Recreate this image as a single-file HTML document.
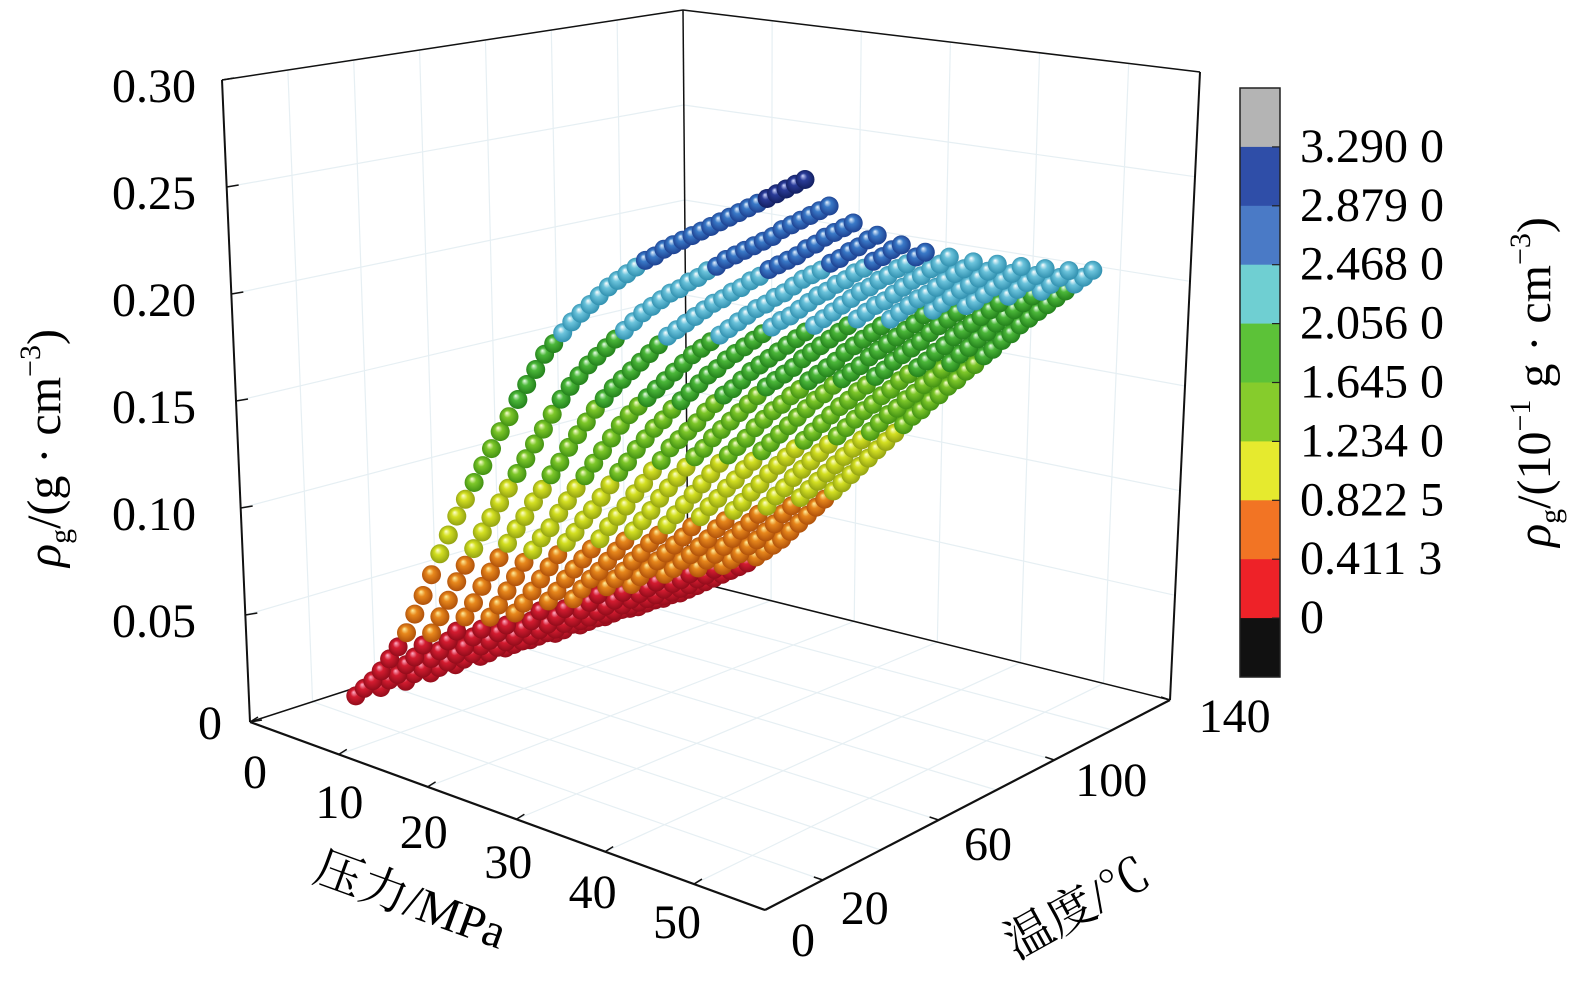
<!DOCTYPE html>
<html><head><meta charset="utf-8"><style>
html,body{margin:0;padding:0;background:#fff;}
svg{display:block;font-family:"Liberation Serif","Noto Serif CJK SC",serif;}
</style></head><body>
<svg id="chart" width="1575" height="988" viewBox="0 0 1575 988" xmlns="http://www.w3.org/2000/svg">
<defs id="defs"></defs>
<g id="grid"></g>
<g id="box"></g>
<g id="pts"></g>
<g id="labels"></g>
<g id="cbar"></g>
<text transform="translate(60,448) rotate(-90)" text-anchor="middle" font-size="48"><tspan font-style="italic">ρ</tspan><tspan font-size="30" dy="10">g</tspan><tspan dy="-10">/(g · cm</tspan><tspan font-size="30" dy="-20">−3</tspan><tspan dy="20">)</tspan></text>
<text transform="translate(405,915) rotate(20)" text-anchor="middle" font-size="48">压力/MPa</text>
<text transform="translate(1085,922) rotate(-29)" text-anchor="middle" font-size="48">温度/℃</text>
<text transform="translate(1550,382) rotate(-90)" text-anchor="middle" font-size="48"><tspan font-style="italic">ρ</tspan><tspan font-size="30" dy="10">g</tspan><tspan dy="-10">/(10</tspan><tspan font-size="30" dy="-20">−1</tspan><tspan dy="20"> g · cm</tspan><tspan font-size="30" dy="-20">−3</tspan><tspan dy="20">)</tspan></text>
</svg>
<script>
const temps=[20,28,36,44,52,60,68,76,84,92,100,108,116];
const pressures=[5,6,7,8,9,10,11,12,13,14,15,16,17,18,19,20,21,22,23,24,25,26,27,28,29,30,31,32,33,34,35,36,37,38,39,40,41,42,43,44,45,46,47,48,49,50,51,52,53,54,55];
const c1=[.010,.015,.020,.026,.033,.040,.048,.058,.068,.079,.090,.100,.110,.119,.128,.137,.146,.155,.163,.172,.180,.188,.196,.202,.208,.214,.219,.224,.229,.234,.238,.242,.246,.250,.253,.257,.260,.263,.266,.269,.272,.275,.278,.281,.284,.287,.290,.293,.296,.299,.302];
const c2=[.010,.015,.019,.025,.030,.037,.044,.053,.062,.072,.081,.090,.099,.107,.115,.123,.131,.139,.147,.155,.163,.171,.178,.184,.190,.195,.200,.205,.210,.215,.220,.224,.228,.232,.235,.239,.242,.246,.249,.253,.256,.259,.262,.265,.268,.272,.275,.278,.281,.284,.287];
const c3=[.009,.014,.018,.024,.029,.035,.041,.049,.057,.066,.074,.082,.090,.098,.105,.113,.120,.128,.135,.143,.150,.157,.164,.170,.176,.181,.186,.191,.196,.201,.206,.210,.214,.218,.222,.226,.229,.233,.236,.240,.243,.247,.250,.253,.256,.260,.263,.267,.270,.273,.276];
const c4=[.009,.013,.017,.022,.027,.033,.038,.045,.052,.060,.068,.076,.083,.090,.096,.104,.111,.118,.125,.132,.139,.146,.153,.159,.164,.169,.174,.179,.184,.189,.194,.198,.202,.206,.210,.214,.218,.222,.225,.229,.232,.236,.240,.243,.246,.250,.253,.257,.260,.264,.267];
const c5=[.009,.013,.017,.022,.026,.031,.036,.043,.049,.056,.063,.070,.077,.084,.090,.097,.103,.110,.117,.124,.130,.137,.143,.149,.154,.160,.165,.170,.175,.180,.184,.189,.193,.197,.201,.205,.209,.213,.216,.220,.224,.228,.231,.235,.238,.242,.245,.249,.252,.256,.259];
const c6=[.009,.012,.016,.020,.024,.029,.034,.040,.046,.052,.059,.065,.071,.077,.083,.090,.096,.102,.109,.115,.122,.128,.135,.140,.145,.150,.156,.161,.166,.170,.175,.180,.184,.188,.192,.196,.200,.204,.208,.212,.216,.220,.224,.228,.231,.235,.238,.242,.245,.249,.252];
const c7=[.009,.012,.015,.019,.023,.027,.032,.037,.043,.049,.055,.060,.066,.072,.078,.084,.090,.096,.103,.109,.115,.121,.127,.132,.138,.143,.148,.153,.158,.163,.168,.172,.176,.180,.185,.189,.193,.197,.201,.205,.209,.213,.217,.220,.224,.228,.232,.235,.239,.242,.246];
const c8=[.009,.012,.015,.018,.022,.026,.031,.036,.041,.046,.051,.056,.062,.067,.073,.078,.084,.090,.096,.102,.108,.114,.120,.125,.130,.135,.141,.146,.151,.155,.160,.164,.169,.173,.177,.181,.186,.190,.194,.198,.202,.206,.210,.214,.218,.221,.225,.229,.233,.236,.240];
const c9=[.008,.011,.015,.018,.021,.025,.029,.033,.038,.043,.048,.053,.058,.063,.068,.073,.079,.085,.091,.096,.102,.107,.113,.118,.124,.129,.134,.139,.144,.149,.154,.158,.163,.167,.171,.175,.180,.184,.188,.192,.196,.200,.205,.208,.212,.216,.220,.223,.227,.231,.235];
const c10=[.008,.011,.014,.017,.020,.024,.028,.032,.036,.040,.045,.049,.054,.058,.063,.068,.074,.079,.085,.090,.096,.101,.107,.112,.117,.122,.127,.132,.137,.142,.147,.151,.156,.160,.165,.169,.174,.178,.182,.186,.191,.195,.199,.203,.207,.210,.214,.218,.222,.226,.230];
const c11=[.008,.011,.014,.017,.020,.023,.026,.030,.034,.037,.041,.045,.050,.054,.059,.064,.069,.074,.079,.084,.090,.095,.101,.106,.111,.116,.121,.126,.131,.136,.141,.145,.150,.154,.159,.163,.167,.171,.176,.180,.185,.189,.193,.197,.201,.205,.209,.213,.217,.221,.225];
const c12=[.008,.010,.013,.016,.019,.022,.025,.028,.032,.035,.039,.042,.046,.050,.055,.059,.064,.069,.075,.080,.085,.090,.095,.100,.105,.110,.115,.120,.125,.130,.135,.139,.144,.148,.153,.157,.162,.166,.171,.175,.180,.184,.189,.193,.197,.201,.205,.208,.212,.216,.220];
const c13=[.008,.010,.013,.015,.018,.021,.024,.027,.030,.033,.036,.039,.043,.047,.051,.055,.060,.065,.070,.075,.080,.085,.090,.095,.100,.105,.110,.115,.120,.125,.130,.134,.139,.143,.148,.152,.157,.161,.166,.170,.175,.179,.184,.188,.192,.196,.200,.204,.208,.212,.216];
const series=[c1,c2,c3,c4,c5,c6,c7,c8,c9,c10,c11,c12,c13];
const zTicks=[0,0.05,0.10,0.15,0.20,0.25,0.30];
const zTickLabels=["0","0.05","0.10","0.15","0.20","0.25","0.30"];
const pTicks=[0,10,20,30,40,50];
const tTicks=[0,20,60,100,140];
const cbarLabels=["3.290 0","2.879 0","2.468 0","2.056 0","1.645 0","1.234 0","0.822 5","0.411 3","0"];

const NS="http://www.w3.org/2000/svg";
const PMAX=58,TMAX=140,ZMAX=0.3;
const O=[250,722],F=[765,910],R=[1170,700],B=[688,580];
const H={O:642,F:700,B:570,R:628}, S={O:-28,F:7,B:-5,R:30};
function lerp(a,b,t){return a+(b-a)*t;}
function proj(P,T,z){
  const u=P/PMAX,v=T/TMAX;
  const bx=lerp(O[0],F[0],u),by=lerp(O[1],F[1],u);
  const kx=lerp(B[0],R[0],u),ky=lerp(B[1],R[1],u);
  const fx=lerp(bx,kx,v),fy=lerp(by,ky,v);
  const h=lerp(lerp(H.O,H.F,u),lerp(H.B,H.R,u),v);
  const s=lerp(lerp(S.O,S.F,u),lerp(S.B,S.R,u),v);
  return [fx+z/ZMAX*s, fy-z/ZMAX*h];
}
function el(tag,attrs,parent){const e=document.createElementNS(NS,tag);for(const k in attrs)e.setAttribute(k,attrs[k]);parent.appendChild(e);return e;}
function line(p,q,parent,stroke,w){return el('line',{x1:p[0],y1:p[1],x2:q[0],y2:q[1],stroke:stroke,'stroke-width':w},parent);}

const sphereCols=[["#ffb0c8","#d41c30","#8a0a18"],["#fff0a0","#e8881c","#a84a08"],["#ffffd0","#d4e022","#8a9a10"],["#ffffd8","#7ec82a","#3a8a10"],["#f0fff0","#4cb83a","#1e7a18"],["#ffffff","#6cc4dc","#2a8aaa"],["#e8f4ff","#3a7ac8","#1a3a8a"],["#d0d8ff","#2a3c98","#101c5a"]];
const defs=document.getElementById('defs');
sphereCols.forEach((c,i)=>{
  const g=el('radialGradient',{id:'sg'+i,cx:'0.5',cy:'0.5',r:'0.55',fx:'0.38',fy:'0.3'},defs);
  el('stop',{offset:'0',"stop-color":c[0]},g);
  el('stop',{offset:'0.35',"stop-color":c[1]},g);
  el('stop',{offset:'1',"stop-color":c[2]},g);
});
function bin(val){const v=val*10;const e=[0.4113,0.8225,1.234,1.645,2.056,2.468,2.879];let i=0;while(i<e.length&&v>=e[i])i++;return i;}

const grid=document.getElementById('grid');
const gc="#e6eff3";
zTicks.forEach(z=>{ if(z===0)return;
  line(proj(0,0,z),proj(0,TMAX,z),grid,gc,1.2);
  line(proj(0,TMAX,z),proj(PMAX,TMAX,z),grid,gc,1.2);
});
[20,40,60,80,100,120].forEach(t=>{
  line(proj(0,t,0),proj(0,t,ZMAX),grid,gc,1.2);
  line(proj(0,t,0),proj(PMAX,t,0),grid,gc,1.2);
});
[10,20,30,40,50].forEach(p=>{
  line(proj(p,TMAX,0),proj(p,TMAX,ZMAX),grid,gc,1.2);
  line(proj(p,0,0),proj(p,TMAX,0),grid,gc,1.2);
});

const box=document.getElementById('box');
line(proj(0,0,0),proj(0,0,ZMAX),box,"#111",2);
line(proj(0,0,ZMAX),proj(0,TMAX,ZMAX),box,"#111",1.5);
line(proj(0,TMAX,ZMAX),proj(PMAX,TMAX,ZMAX),box,"#111",1.5);
line(proj(PMAX,TMAX,ZMAX),proj(PMAX,TMAX,0),box,"#111",2);
line(proj(0,TMAX,0),proj(0,TMAX,ZMAX),box,"#111",1.5);
line(proj(0,0,0),proj(0,TMAX,0),box,"#111",1.5);
line(proj(0,TMAX,0),proj(PMAX,TMAX,0),box,"#111",1.5);
line(proj(0,0,0),proj(PMAX,0,0),box,"#111",2.2);
line(proj(PMAX,0,0),proj(PMAX,TMAX,0),box,"#111",2.2);
zTicks.forEach(z=>{const p=proj(0,0,z);line(p,[p[0]+12,p[1]-2],box,"#111",1.5);});
pTicks.forEach(pv=>{const p=proj(pv,0,0);line(p,[p[0]+8,p[1]-5],box,"#111",1.5);});
tTicks.forEach(tv=>{const p=proj(PMAX,tv,0);line(p,[p[0]-9,p[1]-3],box,"#111",1.5);});

const pts=document.getElementById('pts');
const items=[];
series.forEach((vals,ci)=>{vals.forEach((v,pi)=>{if(pressures[pi]!==undefined)items.push({T:temps[ci],P:pressures[pi],z:v});});});
items.sort((a,b)=>(b.T/TMAX-b.P/PMAX)-(a.T/TMAX-a.P/PMAX));
items.forEach(it=>{
  const p=proj(it.P,it.T,it.z);
  const c=el('circle',{cx:p[0].toFixed(1),cy:p[1].toFixed(1),r:9.5,fill:'url(#sg'+bin(it.z)+')'},pts);
  
  
});

const labels=document.getElementById('labels');
zTicks.forEach((z,i)=>{const p=proj(0,0,z);
  const t=el('text',{x:(i===0?222:196),y:(p[1]+17+(i===0?0:5)).toFixed(1),'text-anchor':'end','font-size':48},labels);
  
  
  t.textContent=zTickLabels[i];
});
pTicks.forEach(pv=>{const p=proj(pv,0,0);
  const t=el('text',{x:(p[0]+5-pv*0.44).toFixed(1),y:(p[1]+66-pv*0.24).toFixed(1),'text-anchor':'middle','font-size':48},labels);
  
  
  t.textContent=String(pv);
});
tTicks.forEach(tv=>{const p=proj(PMAX,tv,0);
  const t=el('text',{x:(p[0]+38+tv*0.19).toFixed(1),y:(p[1]+46-tv*0.1).toFixed(1),'text-anchor':'middle','font-size':48},labels);
  
  
  t.textContent=String(tv);
});

const cb=document.getElementById('cbar');
const cbX=1240,cbW=40,cbTop=88,cbH=589;
const cbFills=["#b4b4b4","#2f4ea8","#4a7ac6","#6fcfd2","#5cc238","#86cc2c","#e6ea2e","#f27424","#ee2228","#111111"];
const seg=cbH/cbFills.length;
cbFills.forEach((f,i)=>{const r=el('rect',{x:cbX,y:(cbTop+i*seg).toFixed(1),width:cbW,height:(seg+0.5).toFixed(1),fill:f},cb);
  
  });
el('rect',{x:cbX,y:cbTop,width:cbW,height:cbH,fill:'none',stroke:'#222','stroke-width':1.5},cb);
cbarLabels.forEach((l,i)=>{
  const y=cbTop+(i+1)*seg;
  line([cbX+cbW-8,y],[cbX+cbW,y],cb,'#222',1.2);
  const t=el('text',{x:1300,y:(y+15).toFixed(1),'font-size':48},cb);
  
  
  t.textContent=l;
});
</script>
</body></html>
